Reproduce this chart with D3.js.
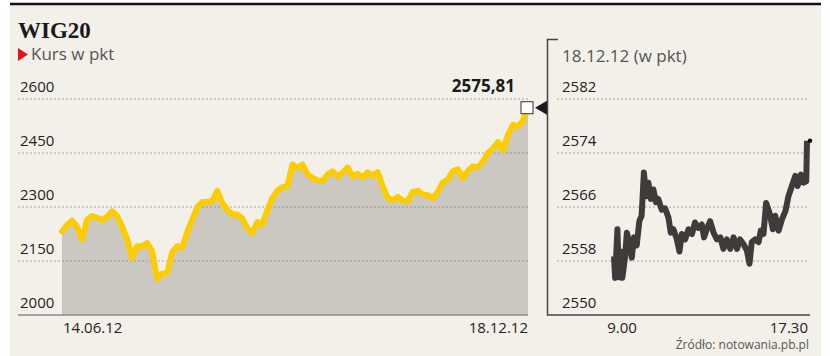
<!DOCTYPE html>
<html>
<head>
<meta charset="utf-8">
<script src="https://cdn.jsdelivr.net/npm/d3@7"></script>
<style>
  body { margin: 0; background: #fff; }
  text { font-family: "Open Sans", "Noto Sans", sans-serif; }
</style>
</head>
<body>
<div id="chart"></div>
<script>
// WIG20 daily close, 14.06.12 - 18.12.12 (pkt)
const dailyValues = [2232, 2250, 2262, 2245, 2210, 2265, 2275, 2270, 2264, 2272,
  2288, 2274, 2246, 2210, 2158, 2191, 2191, 2200, 2177, 2100,
  2115, 2117, 2175, 2191, 2188, 2230, 2265, 2300, 2314, 2314,
  2316, 2345, 2311, 2292, 2279, 2279, 2268, 2240, 2228, 2258,
  2252, 2292, 2325, 2345, 2355, 2358, 2418, 2408, 2418, 2390,
  2381, 2374, 2372, 2390, 2399, 2385, 2395, 2410, 2385, 2392,
  2382, 2396, 2387, 2397, 2357, 2325, 2318, 2328, 2318, 2316,
  2342, 2345, 2335, 2333, 2324, 2342, 2368, 2376, 2400, 2405,
  2380, 2400, 2413, 2410, 2426, 2450, 2463, 2480, 2458, 2500,
  2528, 2524, 2540, 2575.81];
const dateLabels = ["14.06.12", "18.12.12"];
const dailyTicks = [2000, 2150, 2300, 2450, 2600];

// intraday 18.12.12
const intraTimes = ["9:00","9:03","9:09","9:13","9:18","9:22","9:29","9:34","9:40","9:47",
  "9:53","10:00","10:07","10:13","10:19","10:25","10:31","10:37","10:44","10:51",
  "10:57","11:06","11:15","11:24","11:30","11:37","11:46","11:53","11:59","12:08",
  "12:17","12:26","12:34","12:43","12:52","12:58","13:05","13:14","13:23","13:32",
  "13:41","13:49","13:58","14:07","14:16","14:25","14:33","14:42","14:51","14:58",
  "15:04","15:13","15:22","15:28","15:35","15:42","15:51","16:00","16:06","16:15",
  "16:24","16:33","16:41","16:50","16:59","17:05","17:14","17:21","17:28","17:30"];
const intraValues = [2558.7, 2555.5, 2562.7, 2555.6, 2559.4, 2555.5, 2558.5, 2562.2, 2560.8, 2558.5,
  2561.5, 2560.3, 2563.9, 2564.7, 2571.1, 2567.6, 2569.6, 2567.2, 2568.6, 2566.7,
  2567.2, 2565.6, 2565.8, 2564.4, 2562.2, 2562.7, 2561.2, 2559.4, 2562, 2561.2,
  2562.7, 2562, 2563.7, 2562.9, 2563.4, 2561.5, 2562.7, 2563.9, 2562.2, 2561.2,
  2561.5, 2559.8, 2561.2, 2559.8, 2561.5, 2559.8, 2561.2, 2560.5, 2559.6, 2557.6,
  2560.8, 2561.2, 2560.8, 2562.5, 2562, 2566.6, 2565.1, 2562.7, 2564.7, 2562.5,
  2564.2, 2565.4, 2567.6, 2569.1, 2570.6, 2569.1, 2570.8, 2569.6, 2569.8, 2575.81];
const intraTicks = [2550, 2558, 2566, 2574, 2582];
const timeLabels = ["9.00", "17.30"];

const width = 830, height = 356;

const svg = d3.select("#chart").append("svg")
  .attr("width", width)
  .attr("height", height);

// background + top rule
svg.append("rect").attr("x", 10).attr("y", 4).attr("width", 811).attr("height", 352).attr("fill", "#f3f0e9");
svg.append("line").attr("x1", 10).attr("x2", 821).attr("y1", 4).attr("y2", 4)
  .attr("stroke", "#111").attr("stroke-width", 2.4);

// titles
svg.append("text").attr("x", 18).attr("y", 38)
  .style("font-family", "'Liberation Serif', serif").style("font-weight", "bold")
  .style("font-size", "23px").attr("fill", "#1a1a1a").text("WIG20");
svg.append("path").attr("d", "M18,48 L28,54.5 L18,61 Z").attr("fill", "#e3131b");
svg.append("text").attr("x", 31).attr("y", 60)
  .style("font-size", "17px").attr("fill", "#555").text("Kurs w pkt");

// ---- left chart
const x = d3.scaleLinear().domain([0, dailyValues.length - 1]).range([62, 528]);
const y = d3.scaleLinear().domain([2000, 2600]).range([315, 99]);

const area = d3.area().x((d, i) => x(i)).y0(y(2000)).y1(d => y(d));
svg.append("path").datum(dailyValues).attr("d", area).attr("fill", "#cbc8c1");

svg.append("g").selectAll("line")
  .data(dailyTicks.slice(1))
  .join("line")
    .attr("x1", 18).attr("x2", 528)
    .attr("y1", d => y(d)).attr("y2", d => y(d))
    .attr("stroke", "#8a8a8a").attr("stroke-width", 0.8)
    .attr("stroke-dasharray", "2,2");
svg.append("line").attr("x1", 18).attr("x2", 528).attr("y1", y(2000)).attr("y2", y(2000))
  .attr("stroke", "#8b8b8b").attr("stroke-width", 1.5);

svg.append("g").selectAll("text")
  .data(dailyTicks)
  .join("text")
    .attr("x", 20).attr("y", d => y(d) - 7)
    .style("font-size", "15px").attr("fill", "#222")
    .text(d => d);

const line = d3.line().x((d, i) => x(i)).y(d => y(d));
svg.append("path").datum(dailyValues).attr("d", line)
  .attr("fill", "none").attr("stroke", "#fbcd00").attr("stroke-width", 6)
  .attr("stroke-linejoin", "round").attr("stroke-linecap", "round");

const lastI = dailyValues.length - 1, last = dailyValues[lastI];
svg.append("rect").attr("x", x(lastI) - 7).attr("y", y(last) - 6).attr("width", 12).attr("height", 12)
  .attr("fill", "#fff").attr("stroke", "#333").attr("stroke-width", 1);
svg.append("text").attr("x", x(lastI) - 13).attr("y", y(last) - 16)
  .attr("text-anchor", "end").style("font-size", "17px").style("font-weight", "bold")
  .attr("fill", "#1a1a1a").text(d3.format(".2f")(last).replace(".", ","));
svg.append("path").attr("d", `M${x(lastI) + 7},${y(last)} L547,${y(last) - 7} L547,${y(last) + 7} Z`)
  .attr("fill", "#1a1a1a");

svg.append("text").attr("x", x(0) + 1).attr("y", 333)
  .style("font-size", "15px").attr("fill", "#222").text(dateLabels[0]);
svg.append("text").attr("x", x(lastI)).attr("y", 333).attr("text-anchor", "end")
  .style("font-size", "15px").attr("fill", "#222").text(dateLabels[1]);

// ---- right chart
const parseTime = d3.timeParse("%H:%M");
const intra = intraTimes.map((t, i) => ({t: parseTime(t), v: intraValues[i]}));
const xr = d3.scaleTime().domain(d3.extent(intra, d => d.t)).range([614, 807]);
const yr = d3.scaleLinear().domain([2550, 2582]).range([315, 99]);

svg.append("path").attr("d", "M558,39.5 L547.5,39.5 L547.5,315 L810,315")
  .attr("fill", "none").attr("stroke", "#444").attr("stroke-width", 1.5);

svg.append("text").attr("x", 562).attr("y", 62)
  .style("font-size", "17px").attr("fill", "#555").text("18.12.12 (w pkt)");

svg.append("g").selectAll("line")
  .data(intraTicks.slice(1))
  .join("line")
    .attr("x1", 557).attr("x2", 808)
    .attr("y1", d => yr(d)).attr("y2", d => yr(d))
    .attr("stroke", "#8a8a8a").attr("stroke-width", 0.8)
    .attr("stroke-dasharray", "2,2");

svg.append("g").selectAll("text")
  .data(intraTicks)
  .join("text")
    .attr("x", 562).attr("y", d => yr(d) - 7)
    .style("font-size", "15px").attr("fill", "#222")
    .text(d => d);

const iline = d3.line().x(d => xr(d.t)).y(d => yr(d.v));
svg.append("path").datum(intra).attr("d", iline)
  .attr("fill", "none").attr("stroke", "#3f3b3b").attr("stroke-width", 6)
  .attr("stroke-linejoin", "round");

const iLast = intra[intra.length - 1];
svg.append("circle").attr("cx", xr(iLast.t) + 3).attr("cy", yr(iLast.v)).attr("r", 2.3)
  .attr("fill", "#111");

svg.append("text").attr("x", xr(intra[0].t) + 8).attr("y", 333).attr("text-anchor", "middle")
  .style("font-size", "15px").attr("fill", "#222").text(timeLabels[0]);
svg.append("text").attr("x", 808).attr("y", 333).attr("text-anchor", "end")
  .style("font-size", "15px").attr("fill", "#222").text(timeLabels[1]);

svg.append("text").attr("x", 809).attr("y", 349).attr("text-anchor", "end")
  .style("font-size", "12px").attr("fill", "#555").text("Źródło: notowania.pb.pl");
</script>
</body>
</html>
